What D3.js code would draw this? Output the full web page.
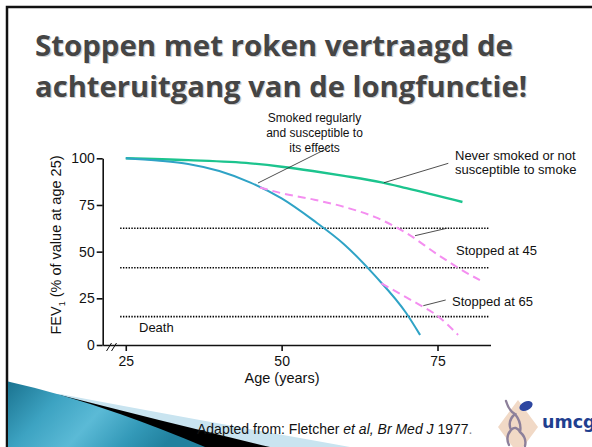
<!DOCTYPE html>
<html>
<head>
<meta charset="utf-8">
<script src="https://cdn.jsdelivr.net/npm/d3@7"></script>
<style>
  html, body { margin: 0; padding: 0; background: #fff; }
  svg { display: block; font-family: "Liberation Sans", Arial, sans-serif; }
</style>
</head>
<body>
<svg id="chart" width="592" height="447"></svg>
<script>
/* ── Data ─────────────────────────────────────────────────────────────────── */

const TITLE_LINES = ["Stoppen met roken vertraagd de", "achteruitgang van de longfunctie!"];

const X_TICKS = [25, 50, 75];
const Y_TICKS = [0, 25, 50, 75, 100];

// never smoked / not susceptible
const NEVER_AGE = [25, 35, 45, 50, 55, 60, 66, 70, 79];
const NEVER_FEV = [100, 99, 97.3, 95.5, 93.2, 90.6, 87.1, 84, 76.6];

// smoked regularly and susceptible
const SMOKER_AGE = [25, 30, 35, 40, 45, 50, 55, 60, 65, 70, 72.2];
const SMOKER_FEV = [100, 98.8, 97, 93.2, 87, 78.5, 67, 54, 37, 17, 5.4];

// stopped at 45
const STOP45_AGE = [46.5, 50, 55, 60, 65, 70, 75, 80, 81.8];
const STOP45_FEV = [84.4, 81.3, 78, 74, 68.5, 60, 48.5, 38, 34.8];

// stopped at 65
const STOP65_AGE = [66, 67.4, 70, 72.2, 74.8, 78.3];
const STOP65_FEV = [33, 30.4, 25.5, 21.4, 16.1, 5.4];

const DOTTED_LEVELS = [62.5, 41.4, 15.2];
const DOTTED_RANGE = [24.1, 83.2];

/* ── Layout ───────────────────────────────────────────────────────────────── */

const COL = {
  never: "#1cc48e",
  smoker: "#2fa3c6",
  stopped: "#f48ef0",
  title: "#454545",
};

const svg = d3.select("#chart");

const x = d3.scaleLinear().domain([21.3, 83.5]).range([102.7, 490.5]);
const y = d3.scaleLinear().domain([0, 100]).range([345, 158.3]);

/* ── Slide frame & title ──────────────────────────────────────────────────── */

svg.append("rect").attr("width", 592).attr("height", 447).attr("fill", "#fff");

svg.append("path")
  .attr("d", "M7,447V7H592")
  .attr("fill", "none")
  .attr("stroke", "#111")
  .attr("stroke-width", 2.5);

TITLE_LINES.forEach((t, i) => {
  const by = 56 + i * 41;
  const len = i === 0 ? 478 : 492;
  [["#cfcfcf", 1.2], [COL.title, 0]].forEach(([fill, off]) => {
    svg.append("text")
      .attr("x", 35 + off)
      .attr("y", by + off)
      .attr("font-family", "'Open Sans', 'DejaVu Sans', sans-serif")
      .attr("font-weight", "bold")
      .attr("font-size", 28.5)
      .attr("textLength", len)
      .attr("lengthAdjust", "spacingAndGlyphs")
      .attr("fill", fill)
      .text(t);
  });
});

/* ── Bottom swoosh ────────────────────────────────────────────────────────── */

const defs = svg.append("defs");
const grad = defs.append("linearGradient")
  .attr("id", "teal")
  .attr("x1", "0").attr("y1", "0").attr("x2", "1").attr("y2", "0.3");
[["0%", "#1a7390"], ["30%", "#3da3c2"], ["55%", "#5bbad6"], ["80%", "#3399b8"], ["100%", "#21819e"]]
  .forEach(([o, c]) => grad.append("stop").attr("offset", o).attr("stop-color", c));

svg.append("path")
  .attr("d", "M8,393 L60,394 Q170,415 350,447 L8,447Z")
  .attr("fill", "#c9e4f0");
svg.append("path")
  .attr("d", "M8,392 L60,395 Q165,422 270,447 L8,447Z")
  .attr("fill", "#000");
svg.append("path")
  .attr("d", "M8,381.5 Q60,393 120,414 Q160,428 205,447 L8,447Z")
  .attr("fill", "url(#teal)");

/* ── Gridlines (dotted thresholds) ────────────────────────────────────────── */

svg.append("g")
  .selectAll("line")
  .data(DOTTED_LEVELS)
  .join("line")
  .attr("x1", x(DOTTED_RANGE[0]))
  .attr("x2", x(DOTTED_RANGE[1]))
  .attr("y1", (d) => y(d))
  .attr("y2", (d) => y(d))
  .attr("stroke", "#000")
  .attr("stroke-width", 1.6)
  .attr("stroke-dasharray", "1.4,1.4");

/* ── Axes ─────────────────────────────────────────────────────────────────── */

const yAxis = svg.append("g")
  .attr("transform", `translate(${x.range()[0]},0)`)
  .call(d3.axisLeft(y).tickValues(Y_TICKS).tickSize(6).tickSizeOuter(0).tickPadding(2));

const xAxis = svg.append("g")
  .attr("transform", `translate(0,${y(0)})`)
  .call(d3.axisBottom(x).tickValues(X_TICKS).tickSize(6).tickSizeOuter(0).tickPadding(5));

[yAxis, xAxis].forEach((g) => {
  g.selectAll("path, line").attr("stroke", "#111").attr("stroke-width", 1.6);
  g.selectAll("text")
    .attr("font-family", "'Liberation Sans', Arial, sans-serif")
    .attr("font-size", 14)
    .attr("fill", "#111");
});

// axis break marks
[0, 5].forEach((dx) => {
  svg.append("line")
    .attr("x1", 106.5 + dx).attr("y1", 351)
    .attr("x2", 111.5 + dx).attr("y2", 343)
    .attr("stroke", "#111")
    .attr("stroke-width", 1);
});

svg.append("text")
  .attr("x", 282)
  .attr("y", 383)
  .attr("text-anchor", "middle")
  .attr("font-size", 14.5)
  .attr("fill", "#111")
  .text("Age (years)");

const yl = svg.append("text")
  .attr("transform", "translate(61,245) rotate(-90)")
  .attr("text-anchor", "middle")
  .attr("font-size", 14.5)
  .attr("fill", "#111");
yl.append("tspan").text("FEV");
yl.append("tspan").attr("font-size", 9).attr("dy", 4).text("1");
yl.append("tspan").attr("dy", -4).text(" (% of value at age 25)");

/* ── Curves ───────────────────────────────────────────────────────────────── */

const line = d3.line()
  .x((d) => x(d[0]))
  .y((d) => y(d[1]))
  .curve(d3.curveMonotoneX);

const zip = (a, b) => a.map((v, i) => [v, b[i]]);

const SERIES = [
  { pts: zip(NEVER_AGE, NEVER_FEV), color: COL.never, w: 2.4, dash: null },
  { pts: zip(SMOKER_AGE, SMOKER_FEV), color: COL.smoker, w: 2, dash: null },
  { pts: zip(STOP45_AGE, STOP45_FEV), color: COL.stopped, w: 2, dash: "8,5" },
  { pts: zip(STOP65_AGE, STOP65_FEV), color: COL.stopped, w: 2, dash: "8,5" },
];

svg.append("g")
  .selectAll("path")
  .data(SERIES)
  .join("path")
  .attr("d", (d) => line(d.pts))
  .attr("fill", "none")
  .attr("stroke", (d) => d.color)
  .attr("stroke-width", (d) => d.w)
  .attr("stroke-dasharray", (d) => d.dash);

/* ── Annotations ──────────────────────────────────────────────────────────── */

const LEADERS = [
  [258, 183, 330, 147],
  [384, 182.7, 448.3, 163.3],
  [415, 235.7, 446.7, 228.3],
  [423.3, 305.7, 445.7, 300],
];

svg.append("g")
  .selectAll("line")
  .data(LEADERS)
  .join("line")
  .attr("x1", (d) => d[0]).attr("y1", (d) => d[1])
  .attr("x2", (d) => d[2]).attr("y2", (d) => d[3])
  .attr("stroke", "#222")
  .attr("stroke-width", 0.8);

const LABELS = [
  { x: 314.5, y: 121.5, size: 12, anchor: "middle", text: "Smoked regularly" },
  { x: 314.5, y: 136.5, size: 12, anchor: "middle", text: "and susceptible to" },
  { x: 314.5, y: 151.5, size: 12, anchor: "middle", text: "its effects" },
  { x: 455, y: 159.5, size: 13, anchor: "start", text: "Never smoked or not" },
  { x: 455, y: 174, size: 13, anchor: "start", text: "susceptible to smoke" },
  { x: 456, y: 254.5, size: 13, anchor: "start", text: "Stopped at 45" },
  { x: 452, y: 305.5, size: 13, anchor: "start", text: "Stopped at 65" },
  { x: 139, y: 331.5, size: 13, anchor: "start", text: "Death" },
];

svg.append("g")
  .selectAll("text")
  .data(LABELS)
  .join("text")
  .attr("x", (d) => d.x)
  .attr("y", (d) => d.y)
  .attr("font-size", (d) => d.size)
  .attr("text-anchor", (d) => d.anchor)
  .attr("fill", "#111")
  .text((d) => d.text);

/* ── Citation ─────────────────────────────────────────────────────────────── */

const cite = svg.append("text")
  .attr("x", 197)
  .attr("y", 434)
  .attr("font-size", 14)
  .attr("fill", "#111");
cite.append("tspan").text("Adapted from: Fletcher ");
cite.append("tspan").attr("font-style", "italic").text("et al, Br Med J");
cite.append("tspan").text(" 1977");
cite.append("tspan").attr("fill", "#888").text(".");

/* ── Logo ─────────────────────────────────────────────────────────────────── */

const logo = svg.append("g");
logo.append("path")
  .attr("d", "M518,400 L538,427 L518,454 L498,427Z")
  .attr("fill", "#f1d9c6");
logo.append("path")
  .attr("d", "M506,401 Q509,411 515,414 Q507,421 511,430 Q505,437 509,445 M515,414 Q522,423 520,432 Q527,438 525,446 M511,430 Q516,425 520,432")
  .attr("fill", "none")
  .attr("stroke", "#8d809a")
  .attr("stroke-width", 2.4)
  .attr("stroke-linecap", "round");
logo.append("ellipse")
  .attr("cx", 526).attr("cy", 406)
  .attr("rx", 7).attr("ry", 4.5)
  .attr("transform", "rotate(-25,526,406)")
  .attr("fill", "#2d46a0");
logo.append("text")
  .attr("x", 542)
  .attr("y", 428)
  .attr("font-family", "'DejaVu Sans', sans-serif")
  .attr("font-weight", "bold")
  .attr("font-size", 17.5)
  .attr("fill", "#1f3f8f")
  .text("umcg");
</script>
</body>
</html>
